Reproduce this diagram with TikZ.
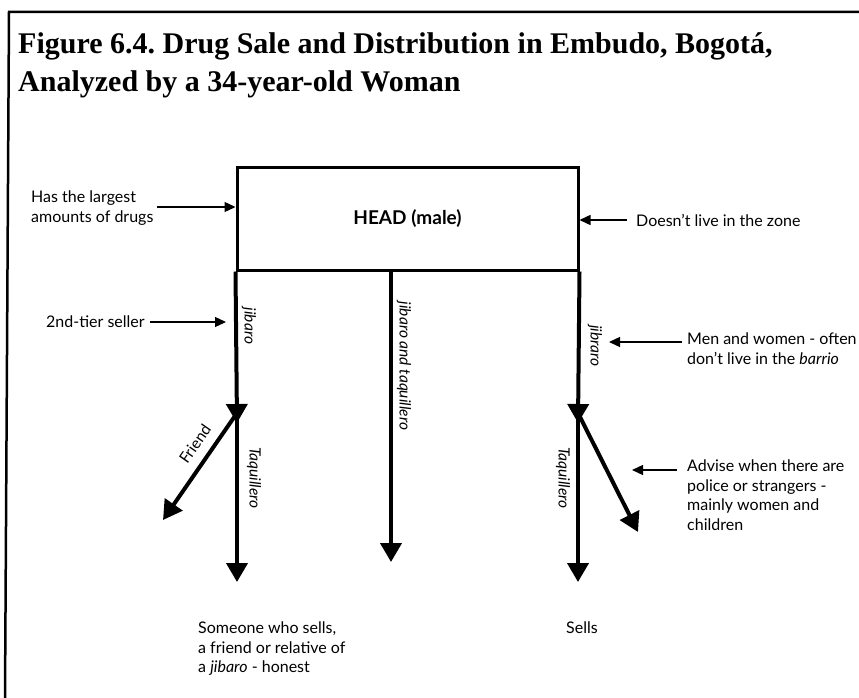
\documentclass[tikz,border=0pt]{standalone}
\usepackage{fontspec}
\setmainfont{Lato}
\newfontfamily\titlefont{Liberation Serif}
\usetikzlibrary{arrows.meta}
\frenchspacing
\begin{document}
\begin{tikzpicture}[x=1pt,y=-1pt,
  note/.style={font=\fontsize{16}{19.5}\selectfont, align=left, inner sep=0pt},
  flow/.style={line width=4pt, -{Triangle[length=19pt,width=21pt]}},
  pointer/.style={line width=1.3pt, -{Triangle[length=11pt,width=10pt]}},
  lbl/.style={font=\fontsize{15.5}{17}\selectfont\itshape, inner sep=0pt}]
\useasboundingbox (0,0) rectangle (859,698);

% frame (left and top rules)
\draw[line width=2.5pt] (5,698) -- (9,12) -- (859,12);

% title
\node[anchor=north west, align=left, inner sep=0pt,
      font=\titlefont\bfseries\fontsize{30}{38}\selectfont] (title) at (18,32)
  {Figure 6.4. Drug Sale and Distribution in Embudo, Bogotá,\\Analyzed by a 34-year-old Woman};

% head box
\node[draw, line width=3pt, minimum width=341pt, minimum height=103pt, inner sep=0pt,
      font=\fontsize{19}{21}\selectfont\bfseries] (head) at (407.5,218.5) {HEAD (male)};

% junction and end points
\coordinate (lhead) at (237,423);
\coordinate (lsplit) at (237,413);
\coordinate (lend) at (237,582);
\coordinate (lfriend) at (163,520);
\coordinate (mend) at (391,562);
\coordinate (rhead) at (578,423);
\coordinate (rsplit) at (578,413);
\coordinate (rend) at (578,582);
\coordinate (radvise) at (638,532);

% main flows
\draw[flow] (head.south west) -- (lhead);
\draw[flow] (lsplit) -- (lend);
\draw[flow] (lsplit) -- (lfriend);
\draw[flow] (mend |- head.south) -- (mend);
\draw[flow] (head.south east) -- (rhead);
\draw[flow] (rsplit) -- (rend);
\draw[flow] (rsplit) -- (radvise);

% flow labels
\node[lbl, rotate=-90] (jl) at (249,326) {jibaro};
\node[lbl, rotate=-90] (jm) at (404,366) {jibaro and taquillero};
\node[lbl, rotate=-90] (jr) at (595,346) {jibraro};
\node[lbl, rotate=-90] (tl) at (254,478) {Taquillero};
\node[lbl, rotate=-90] (tr) at (563,478) {Taquillero};
\node[font=\fontsize{15.5}{17}\selectfont, inner sep=0pt, rotate=55] (fr) at (195,444) {Friend};

% annotations
\node[note, anchor=north west] (n1) at (31,191) {Has the largest\\amounts of drugs};
\coordinate (n1tail) at (157,207);
\draw[pointer] (n1tail) -- (head.west |- n1tail);

\node[note, anchor=west] (n2) at (636,220) {Doesn't live in the zone};
\coordinate (n2tail) at (627,220);
\draw[pointer] (n2tail) -- (head.east |- n2tail);

\node[note, anchor=west] (n3) at (46,322) {2nd-tier seller};
\coordinate (n3tip) at (226,322);
\draw[pointer] (n3.east) ++(5,0) -- (n3tip);

\node[note, anchor=north west] (n4) at (687,333) {Men and women - often\\don't live in the \textit{barrio}};
\coordinate (n4tail) at (682,342);
\coordinate (n4tip) at (609,342);
\draw[pointer] (n4tail) -- (n4tip);

\node[note, anchor=north west] (n5) at (687,460) {Advise when there are\\police or strangers -\\mainly women and\\children};
\coordinate (n5tail) at (677,470);
\coordinate (n5tip) at (632,470);
\draw[pointer] (n5tail) -- (n5tip);

\node[note, anchor=north west] (n6) at (198,622) {Someone who sells,\\a friend or relative of\\a \textit{jibaro} - honest};
\node[note, anchor=north west] (n7) at (566,622) {Sells};
\end{tikzpicture}
\end{document}
